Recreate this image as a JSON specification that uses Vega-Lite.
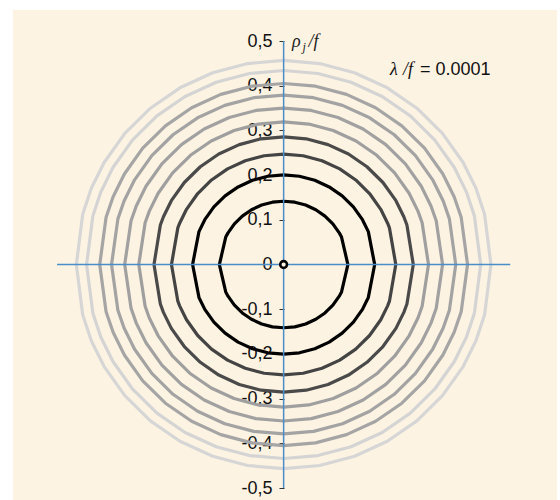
{
  "$schema": "https://vega.github.io/schema/vega-lite/v6.json",
  "width": 544,
  "height": 490,
  "autosize": {"type": "none"},
  "padding": {"left": 13, "top": 10, "right": 3, "bottom": 0},
  "background": "#ffffff",
  "config": {"view": {"fill": "#FDF3E2", "stroke": null}},
  "datasets": {
    "rings": [
      {"k":1,"x":0.1415,"y":0},{"k":1,"x":0.1275,"y":0.0614},{"k":1,"x":0.1225,"y":0.0708},{"k":1,"x":0.1084,"y":0.091},{"k":1,"x":0.091,"y":0.1084},{"k":1,"x":0.0708,"y":0.1225},{"k":1,"x":0.0484,"y":0.133},{"k":1,"x":0.0246,"y":0.1394},{"k":1,"x":0,"y":0.1415},
      {"k":1,"x":-0.0246,"y":0.1394},{"k":1,"x":-0.0484,"y":0.133},{"k":1,"x":-0.0708,"y":0.1225},{"k":1,"x":-0.091,"y":0.1084},{"k":1,"x":-0.1084,"y":0.091},{"k":1,"x":-0.1225,"y":0.0708},{"k":1,"x":-0.1275,"y":0.0614},{"k":1,"x":-0.1415,"y":0},
      {"k":1,"x":-0.1275,"y":-0.0614},{"k":1,"x":-0.1225,"y":-0.0708},{"k":1,"x":-0.1084,"y":-0.091},{"k":1,"x":-0.091,"y":-0.1084},{"k":1,"x":-0.0708,"y":-0.1225},{"k":1,"x":-0.0484,"y":-0.133},{"k":1,"x":-0.0246,"y":-0.1394},{"k":1,"x":0,"y":-0.1415},
      {"k":1,"x":0.0246,"y":-0.1394},{"k":1,"x":0.0484,"y":-0.133},{"k":1,"x":0.0708,"y":-0.1225},{"k":1,"x":0.091,"y":-0.1084},{"k":1,"x":0.1084,"y":-0.091},{"k":1,"x":0.1225,"y":-0.0708},{"k":1,"x":0.1275,"y":-0.0614},{"k":1,"x":0.1415,"y":0},

      {"k":2,"x":0.2005,"y":0},{"k":2,"x":0.1865,"y":0.0736},{"k":2,"x":0.1736,"y":0.1003},{"k":2,"x":0.1536,"y":0.1289},{"k":2,"x":0.1289,"y":0.1536},{"k":2,"x":0.1003,"y":0.1736},{"k":2,"x":0.0686,"y":0.1884},{"k":2,"x":0.0348,"y":0.1975},{"k":2,"x":0,"y":0.2005},
      {"k":2,"x":-0.0348,"y":0.1975},{"k":2,"x":-0.0686,"y":0.1884},{"k":2,"x":-0.1003,"y":0.1736},{"k":2,"x":-0.1289,"y":0.1536},{"k":2,"x":-0.1536,"y":0.1289},{"k":2,"x":-0.1736,"y":0.1003},{"k":2,"x":-0.1865,"y":0.0736},{"k":2,"x":-0.2005,"y":0},
      {"k":2,"x":-0.1865,"y":-0.0736},{"k":2,"x":-0.1736,"y":-0.1003},{"k":2,"x":-0.1536,"y":-0.1289},{"k":2,"x":-0.1289,"y":-0.1536},{"k":2,"x":-0.1003,"y":-0.1736},{"k":2,"x":-0.0686,"y":-0.1884},{"k":2,"x":-0.0348,"y":-0.1975},{"k":2,"x":0,"y":-0.2005},
      {"k":2,"x":0.0348,"y":-0.1975},{"k":2,"x":0.0686,"y":-0.1884},{"k":2,"x":0.1003,"y":-0.1736},{"k":2,"x":0.1289,"y":-0.1536},{"k":2,"x":0.1536,"y":-0.1289},{"k":2,"x":0.1736,"y":-0.1003},{"k":2,"x":0.1865,"y":-0.0736},{"k":2,"x":0.2005,"y":0},

      {"k":3,"x":0.247,"y":0},{"k":3,"x":0.233,"y":0.082},{"k":3,"x":0.229,"y":0.0925},{"k":3,"x":0.2139,"y":0.1235},{"k":3,"x":0.1892,"y":0.1588},{"k":3,"x":0.1588,"y":0.1892},{"k":3,"x":0.1235,"y":0.2139},{"k":3,"x":0.0845,"y":0.2321},{"k":3,"x":0.0429,"y":0.2433},{"k":3,"x":0,"y":0.247},
      {"k":3,"x":-0.0429,"y":0.2433},{"k":3,"x":-0.0845,"y":0.2321},{"k":3,"x":-0.1235,"y":0.2139},{"k":3,"x":-0.1588,"y":0.1892},{"k":3,"x":-0.1892,"y":0.1588},{"k":3,"x":-0.2139,"y":0.1235},{"k":3,"x":-0.229,"y":0.0925},{"k":3,"x":-0.233,"y":0.082},{"k":3,"x":-0.247,"y":0},
      {"k":3,"x":-0.233,"y":-0.082},{"k":3,"x":-0.229,"y":-0.0925},{"k":3,"x":-0.2139,"y":-0.1235},{"k":3,"x":-0.1892,"y":-0.1588},{"k":3,"x":-0.1588,"y":-0.1892},{"k":3,"x":-0.1235,"y":-0.2139},{"k":3,"x":-0.0845,"y":-0.2321},{"k":3,"x":-0.0429,"y":-0.2433},{"k":3,"x":0,"y":-0.247},
      {"k":3,"x":0.0429,"y":-0.2433},{"k":3,"x":0.0845,"y":-0.2321},{"k":3,"x":0.1235,"y":-0.2139},{"k":3,"x":0.1588,"y":-0.1892},{"k":3,"x":0.1892,"y":-0.1588},{"k":3,"x":0.2139,"y":-0.1235},{"k":3,"x":0.229,"y":-0.0925},{"k":3,"x":0.233,"y":-0.082},{"k":3,"x":0.247,"y":0},

      {"k":4,"x":0.2855,"y":0},{"k":4,"x":0.2715,"y":0.0883},{"k":4,"x":0.2647,"y":0.107},{"k":4,"x":0.2473,"y":0.1428},{"k":4,"x":0.2187,"y":0.1835},{"k":4,"x":0.1835,"y":0.2187},{"k":4,"x":0.1428,"y":0.2473},{"k":4,"x":0.0977,"y":0.2683},{"k":4,"x":0.0496,"y":0.2812},{"k":4,"x":0,"y":0.2855},
      {"k":4,"x":-0.0496,"y":0.2812},{"k":4,"x":-0.0977,"y":0.2683},{"k":4,"x":-0.1428,"y":0.2473},{"k":4,"x":-0.1835,"y":0.2187},{"k":4,"x":-0.2187,"y":0.1835},{"k":4,"x":-0.2473,"y":0.1428},{"k":4,"x":-0.2647,"y":0.107},{"k":4,"x":-0.2715,"y":0.0883},{"k":4,"x":-0.2855,"y":0},
      {"k":4,"x":-0.2715,"y":-0.0883},{"k":4,"x":-0.2647,"y":-0.107},{"k":4,"x":-0.2473,"y":-0.1428},{"k":4,"x":-0.2187,"y":-0.1835},{"k":4,"x":-0.1835,"y":-0.2187},{"k":4,"x":-0.1428,"y":-0.2473},{"k":4,"x":-0.0977,"y":-0.2683},{"k":4,"x":-0.0496,"y":-0.2812},{"k":4,"x":0,"y":-0.2855},
      {"k":4,"x":0.0496,"y":-0.2812},{"k":4,"x":0.0977,"y":-0.2683},{"k":4,"x":0.1428,"y":-0.2473},{"k":4,"x":0.1835,"y":-0.2187},{"k":4,"x":0.2187,"y":-0.1835},{"k":4,"x":0.2473,"y":-0.1428},{"k":4,"x":0.2647,"y":-0.107},{"k":4,"x":0.2715,"y":-0.0883},{"k":4,"x":0.2855,"y":0},

      {"k":5,"x":0.319,"y":0},{"k":5,"x":0.305,"y":0.0935},{"k":5,"x":0.2958,"y":0.1195},{"k":5,"x":0.2763,"y":0.1595},{"k":5,"x":0.2444,"y":0.2051},{"k":5,"x":0.2051,"y":0.2444},{"k":5,"x":0.1595,"y":0.2763},{"k":5,"x":0.1091,"y":0.2998},{"k":5,"x":0.0554,"y":0.3142},{"k":5,"x":0,"y":0.319},
      {"k":5,"x":-0.0554,"y":0.3142},{"k":5,"x":-0.1091,"y":0.2998},{"k":5,"x":-0.1595,"y":0.2763},{"k":5,"x":-0.2051,"y":0.2444},{"k":5,"x":-0.2444,"y":0.2051},{"k":5,"x":-0.2763,"y":0.1595},{"k":5,"x":-0.2958,"y":0.1195},{"k":5,"x":-0.305,"y":0.0935},{"k":5,"x":-0.319,"y":0},
      {"k":5,"x":-0.305,"y":-0.0935},{"k":5,"x":-0.2958,"y":-0.1195},{"k":5,"x":-0.2763,"y":-0.1595},{"k":5,"x":-0.2444,"y":-0.2051},{"k":5,"x":-0.2051,"y":-0.2444},{"k":5,"x":-0.1595,"y":-0.2763},{"k":5,"x":-0.1091,"y":-0.2998},{"k":5,"x":-0.0554,"y":-0.3142},{"k":5,"x":0,"y":-0.319},
      {"k":5,"x":0.0554,"y":-0.3142},{"k":5,"x":0.1091,"y":-0.2998},{"k":5,"x":0.1595,"y":-0.2763},{"k":5,"x":0.2051,"y":-0.2444},{"k":5,"x":0.2444,"y":-0.2051},{"k":5,"x":0.2763,"y":-0.1595},{"k":5,"x":0.2958,"y":-0.1195},{"k":5,"x":0.305,"y":-0.0935},{"k":5,"x":0.319,"y":0},

      {"k":6,"x":0.35,"y":0},{"k":6,"x":0.336,"y":0.098},{"k":6,"x":0.3245,"y":0.1311},{"k":6,"x":0.3031,"y":0.175},{"k":6,"x":0.2681,"y":0.225},{"k":6,"x":0.225,"y":0.2681},{"k":6,"x":0.175,"y":0.3031},{"k":6,"x":0.1197,"y":0.3289},{"k":6,"x":0.0608,"y":0.3447},{"k":6,"x":0,"y":0.35},
      {"k":6,"x":-0.0608,"y":0.3447},{"k":6,"x":-0.1197,"y":0.3289},{"k":6,"x":-0.175,"y":0.3031},{"k":6,"x":-0.225,"y":0.2681},{"k":6,"x":-0.2681,"y":0.225},{"k":6,"x":-0.3031,"y":0.175},{"k":6,"x":-0.3245,"y":0.1311},{"k":6,"x":-0.336,"y":0.098},{"k":6,"x":-0.35,"y":0},
      {"k":6,"x":-0.336,"y":-0.098},{"k":6,"x":-0.3245,"y":-0.1311},{"k":6,"x":-0.3031,"y":-0.175},{"k":6,"x":-0.2681,"y":-0.225},{"k":6,"x":-0.225,"y":-0.2681},{"k":6,"x":-0.175,"y":-0.3031},{"k":6,"x":-0.1197,"y":-0.3289},{"k":6,"x":-0.0608,"y":-0.3447},{"k":6,"x":0,"y":-0.35},
      {"k":6,"x":0.0608,"y":-0.3447},{"k":6,"x":0.1197,"y":-0.3289},{"k":6,"x":0.175,"y":-0.3031},{"k":6,"x":0.225,"y":-0.2681},{"k":6,"x":0.2681,"y":-0.225},{"k":6,"x":0.3031,"y":-0.175},{"k":6,"x":0.3245,"y":-0.1311},{"k":6,"x":0.336,"y":-0.098},{"k":6,"x":0.35,"y":0},

      {"k":7,"x":0.379,"y":0},{"k":7,"x":0.365,"y":0.1021},{"k":7,"x":0.3514,"y":0.142},{"k":7,"x":0.3282,"y":0.1895},{"k":7,"x":0.2903,"y":0.2436},{"k":7,"x":0.2436,"y":0.2903},{"k":7,"x":0.1895,"y":0.3282},{"k":7,"x":0.1296,"y":0.3561},{"k":7,"x":0.0658,"y":0.3732},{"k":7,"x":0,"y":0.379},
      {"k":7,"x":-0.0658,"y":0.3732},{"k":7,"x":-0.1296,"y":0.3561},{"k":7,"x":-0.1895,"y":0.3282},{"k":7,"x":-0.2436,"y":0.2903},{"k":7,"x":-0.2903,"y":0.2436},{"k":7,"x":-0.3282,"y":0.1895},{"k":7,"x":-0.3514,"y":0.142},{"k":7,"x":-0.365,"y":0.1021},{"k":7,"x":-0.379,"y":0},
      {"k":7,"x":-0.365,"y":-0.1021},{"k":7,"x":-0.3514,"y":-0.142},{"k":7,"x":-0.3282,"y":-0.1895},{"k":7,"x":-0.2903,"y":-0.2436},{"k":7,"x":-0.2436,"y":-0.2903},{"k":7,"x":-0.1895,"y":-0.3282},{"k":7,"x":-0.1296,"y":-0.3561},{"k":7,"x":-0.0658,"y":-0.3732},{"k":7,"x":0,"y":-0.379},
      {"k":7,"x":0.0658,"y":-0.3732},{"k":7,"x":0.1296,"y":-0.3561},{"k":7,"x":0.1895,"y":-0.3282},{"k":7,"x":0.2436,"y":-0.2903},{"k":7,"x":0.2903,"y":-0.2436},{"k":7,"x":0.3282,"y":-0.1895},{"k":7,"x":0.3514,"y":-0.142},{"k":7,"x":0.365,"y":-0.1021},{"k":7,"x":0.379,"y":0},

      {"k":8,"x":0.405,"y":0},{"k":8,"x":0.391,"y":0.1056},{"k":8,"x":0.3755,"y":0.1517},{"k":8,"x":0.3507,"y":0.2025},{"k":8,"x":0.3103,"y":0.2603},{"k":8,"x":0.2603,"y":0.3103},{"k":8,"x":0.2025,"y":0.3507},{"k":8,"x":0.1385,"y":0.3806},{"k":8,"x":0.0703,"y":0.3989},{"k":8,"x":0,"y":0.405},
      {"k":8,"x":-0.0703,"y":0.3989},{"k":8,"x":-0.1385,"y":0.3806},{"k":8,"x":-0.2025,"y":0.3507},{"k":8,"x":-0.2603,"y":0.3103},{"k":8,"x":-0.3103,"y":0.2603},{"k":8,"x":-0.3507,"y":0.2025},{"k":8,"x":-0.3755,"y":0.1517},{"k":8,"x":-0.391,"y":0.1056},{"k":8,"x":-0.405,"y":0},
      {"k":8,"x":-0.391,"y":-0.1056},{"k":8,"x":-0.3755,"y":-0.1517},{"k":8,"x":-0.3507,"y":-0.2025},{"k":8,"x":-0.3103,"y":-0.2603},{"k":8,"x":-0.2603,"y":-0.3103},{"k":8,"x":-0.2025,"y":-0.3507},{"k":8,"x":-0.1385,"y":-0.3806},{"k":8,"x":-0.0703,"y":-0.3989},{"k":8,"x":0,"y":-0.405},
      {"k":8,"x":0.0703,"y":-0.3989},{"k":8,"x":0.1385,"y":-0.3806},{"k":8,"x":0.2025,"y":-0.3507},{"k":8,"x":0.2603,"y":-0.3103},{"k":8,"x":0.3103,"y":-0.2603},{"k":8,"x":0.3507,"y":-0.2025},{"k":8,"x":0.3755,"y":-0.1517},{"k":8,"x":0.391,"y":-0.1056},{"k":8,"x":0.405,"y":0},

      {"k":9,"x":0.434,"y":0},{"k":9,"x":0.42,"y":0.1093},{"k":9,"x":0.4024,"y":0.1626},{"k":9,"x":0.3759,"y":0.217},{"k":9,"x":0.3325,"y":0.279},{"k":9,"x":0.279,"y":0.3325},{"k":9,"x":0.217,"y":0.3759},{"k":9,"x":0.1484,"y":0.4078},{"k":9,"x":0.0754,"y":0.4274},{"k":9,"x":0,"y":0.434},
      {"k":9,"x":-0.0754,"y":0.4274},{"k":9,"x":-0.1484,"y":0.4078},{"k":9,"x":-0.217,"y":0.3759},{"k":9,"x":-0.279,"y":0.3325},{"k":9,"x":-0.3325,"y":0.279},{"k":9,"x":-0.3759,"y":0.217},{"k":9,"x":-0.4024,"y":0.1626},{"k":9,"x":-0.42,"y":0.1093},{"k":9,"x":-0.434,"y":0},
      {"k":9,"x":-0.42,"y":-0.1093},{"k":9,"x":-0.4024,"y":-0.1626},{"k":9,"x":-0.3759,"y":-0.217},{"k":9,"x":-0.3325,"y":-0.279},{"k":9,"x":-0.279,"y":-0.3325},{"k":9,"x":-0.217,"y":-0.3759},{"k":9,"x":-0.1484,"y":-0.4078},{"k":9,"x":-0.0754,"y":-0.4274},{"k":9,"x":0,"y":-0.434},
      {"k":9,"x":0.0754,"y":-0.4274},{"k":9,"x":0.1484,"y":-0.4078},{"k":9,"x":0.217,"y":-0.3759},{"k":9,"x":0.279,"y":-0.3325},{"k":9,"x":0.3325,"y":-0.279},{"k":9,"x":0.3759,"y":-0.217},{"k":9,"x":0.4024,"y":-0.1626},{"k":9,"x":0.42,"y":-0.1093},{"k":9,"x":0.434,"y":0},

      {"k":10,"x":0.4565,"y":0},{"k":10,"x":0.4425,"y":0.1122},{"k":10,"x":0.4233,"y":0.171},{"k":10,"x":0.3953,"y":0.2283},{"k":10,"x":0.3497,"y":0.2934},{"k":10,"x":0.2934,"y":0.3497},{"k":10,"x":0.2283,"y":0.3953},{"k":10,"x":0.1561,"y":0.429},{"k":10,"x":0.0793,"y":0.4496},{"k":10,"x":0,"y":0.4565},
      {"k":10,"x":-0.0793,"y":0.4496},{"k":10,"x":-0.1561,"y":0.429},{"k":10,"x":-0.2283,"y":0.3953},{"k":10,"x":-0.2934,"y":0.3497},{"k":10,"x":-0.3497,"y":0.2934},{"k":10,"x":-0.3953,"y":0.2283},{"k":10,"x":-0.4233,"y":0.171},{"k":10,"x":-0.4425,"y":0.1122},{"k":10,"x":-0.4565,"y":0},
      {"k":10,"x":-0.4425,"y":-0.1122},{"k":10,"x":-0.4233,"y":-0.171},{"k":10,"x":-0.3953,"y":-0.2283},{"k":10,"x":-0.3497,"y":-0.2934},{"k":10,"x":-0.2934,"y":-0.3497},{"k":10,"x":-0.2283,"y":-0.3953},{"k":10,"x":-0.1561,"y":-0.429},{"k":10,"x":-0.0793,"y":-0.4496},{"k":10,"x":0,"y":-0.4565},
      {"k":10,"x":0.0793,"y":-0.4496},{"k":10,"x":0.1561,"y":-0.429},{"k":10,"x":0.2283,"y":-0.3953},{"k":10,"x":0.2934,"y":-0.3497},{"k":10,"x":0.3497,"y":-0.2934},{"k":10,"x":0.3953,"y":-0.2283},{"k":10,"x":0.4233,"y":-0.171},{"k":10,"x":0.4425,"y":-0.1122},{"k":10,"x":0.4565,"y":0}
    ],
    "one": [{"label": "centre"}]
  },
  "layer": [
    {
      "data": {"name": "rings"},
      "mark": {"type": "line", "strokeWidth": 3.2, "strokeJoin": "round", "clip": false},
      "encoding": {
        "x": {"field": "x", "type": "quantitative", "scale": {"domain": [-0.596, 0.602], "nice": false, "zero": false}, "axis": null},
        "y": {"field": "y", "type": "quantitative", "scale": {"domain": [-0.5268, 0.5694], "nice": false, "zero": false},
          "axis": {
            "values": [-0.5, -0.4, -0.3, -0.2, -0.1, 0, 0.1, 0.2, 0.3, 0.4, 0.5],
            "labelExpr": "datum.value == 0 ? '0' : (datum.value < 0 ? '-' : '') + replace(format(abs(datum.value), '.1f'), '.', ',')",
            "offset": -271,
            "domain": false,
            "grid": false,
            "title": null,
            "ticks": true,
            "tickSize": 5,
            "tickColor": "#333333",
            "tickWidth": 1,
            "labelPadding": 7,
            "labelFont": "Liberation Sans",
            "labelFontSize": 18,
            "labelColor": "#111111",
            "labelOverlap": false,
            "labelBound": false,
            "labelFlush": false
          }
        },
        "color": {"field": "k", "type": "ordinal", "legend": null,
          "scale": {"domain": [1, 2, 3, 4, 5, 6, 7, 8, 9, 10],
                    "range": ["#000000", "#000000", "#444444", "#4a4a4a", "#9f9f9f", "#a1a1a1", "#a3a3a3", "#a5a5a5", "#d4d4d4", "#d6d6d6"]}},
        "order": {"value": null}
      }
    },
    {
      "data": {"name": "one"},
      "mark": {"type": "rule", "color": "#4A8EC9", "strokeWidth": 1.5},
      "encoding": {
        "x": {"datum": -0.499, "type": "quantitative"},
        "x2": {"datum": 0.499},
        "y": {"datum": 0, "type": "quantitative"}
      }
    },
    {
      "data": {"name": "one"},
      "mark": {"type": "rule", "color": "#4A8EC9", "strokeWidth": 1.5},
      "encoding": {
        "x": {"datum": 0, "type": "quantitative"},
        "y": {"datum": -0.5, "type": "quantitative"},
        "y2": {"datum": 0.5}
      }
    },
    {
      "data": {"name": "one"},
      "mark": {"type": "point", "shape": "circle", "size": 45, "filled": true, "fill": "#FDF3E2", "stroke": "#000000", "strokeWidth": 2.6, "opacity": 1},
      "encoding": {
        "x": {"datum": 0, "type": "quantitative"},
        "y": {"datum": 0, "type": "quantitative"}
      }
    },
    {
      "data": {"name": "one"},
      "mark": {"type": "text", "text": "ρ", "font": "Liberation Serif", "fontStyle": "italic", "fontSize": 18, "align": "left", "baseline": "alphabetic", "color": "#222222"},
      "encoding": {"x": {"datum": 0.0185, "type": "quantitative"}, "y": {"datum": 0.4866, "type": "quantitative"}}
    },
    {
      "data": {"name": "one"},
      "mark": {"type": "text", "text": "j", "font": "Liberation Serif", "fontStyle": "italic", "fontSize": 12, "align": "left", "baseline": "alphabetic", "color": "#222222"},
      "encoding": {"x": {"datum": 0.0416, "type": "quantitative"}, "y": {"datum": 0.4776, "type": "quantitative"}}
    },
    {
      "data": {"name": "one"},
      "mark": {"type": "text", "text": "/f", "font": "Liberation Serif", "fontStyle": "italic", "fontSize": 18, "align": "left", "baseline": "alphabetic", "color": "#222222"},
      "encoding": {"x": {"datum": 0.0546, "type": "quantitative"}, "y": {"datum": 0.4866, "type": "quantitative"}}
    },
    {
      "data": {"name": "one"},
      "mark": {"type": "text", "text": "λ", "font": "Liberation Serif", "fontStyle": "italic", "fontSize": 18, "align": "left", "baseline": "alphabetic", "color": "#111111"},
      "encoding": {"x": {"datum": 0.2344, "type": "quantitative"}, "y": {"datum": 0.4239, "type": "quantitative"}}
    },
    {
      "data": {"name": "one"},
      "mark": {"type": "text", "text": "/f", "font": "Liberation Serif", "fontStyle": "italic", "fontSize": 18, "align": "left", "baseline": "alphabetic", "color": "#111111"},
      "encoding": {"x": {"datum": 0.2628, "type": "quantitative"}, "y": {"datum": 0.4239, "type": "quantitative"}}
    },
    {
      "data": {"name": "one"},
      "mark": {"type": "text", "text": "= 0.0001", "font": "Liberation Sans", "fontSize": 18, "align": "left", "baseline": "alphabetic", "color": "#111111"},
      "encoding": {"x": {"datum": 0.3004, "type": "quantitative"}, "y": {"datum": 0.4239, "type": "quantitative"}}
    }
  ]
}
